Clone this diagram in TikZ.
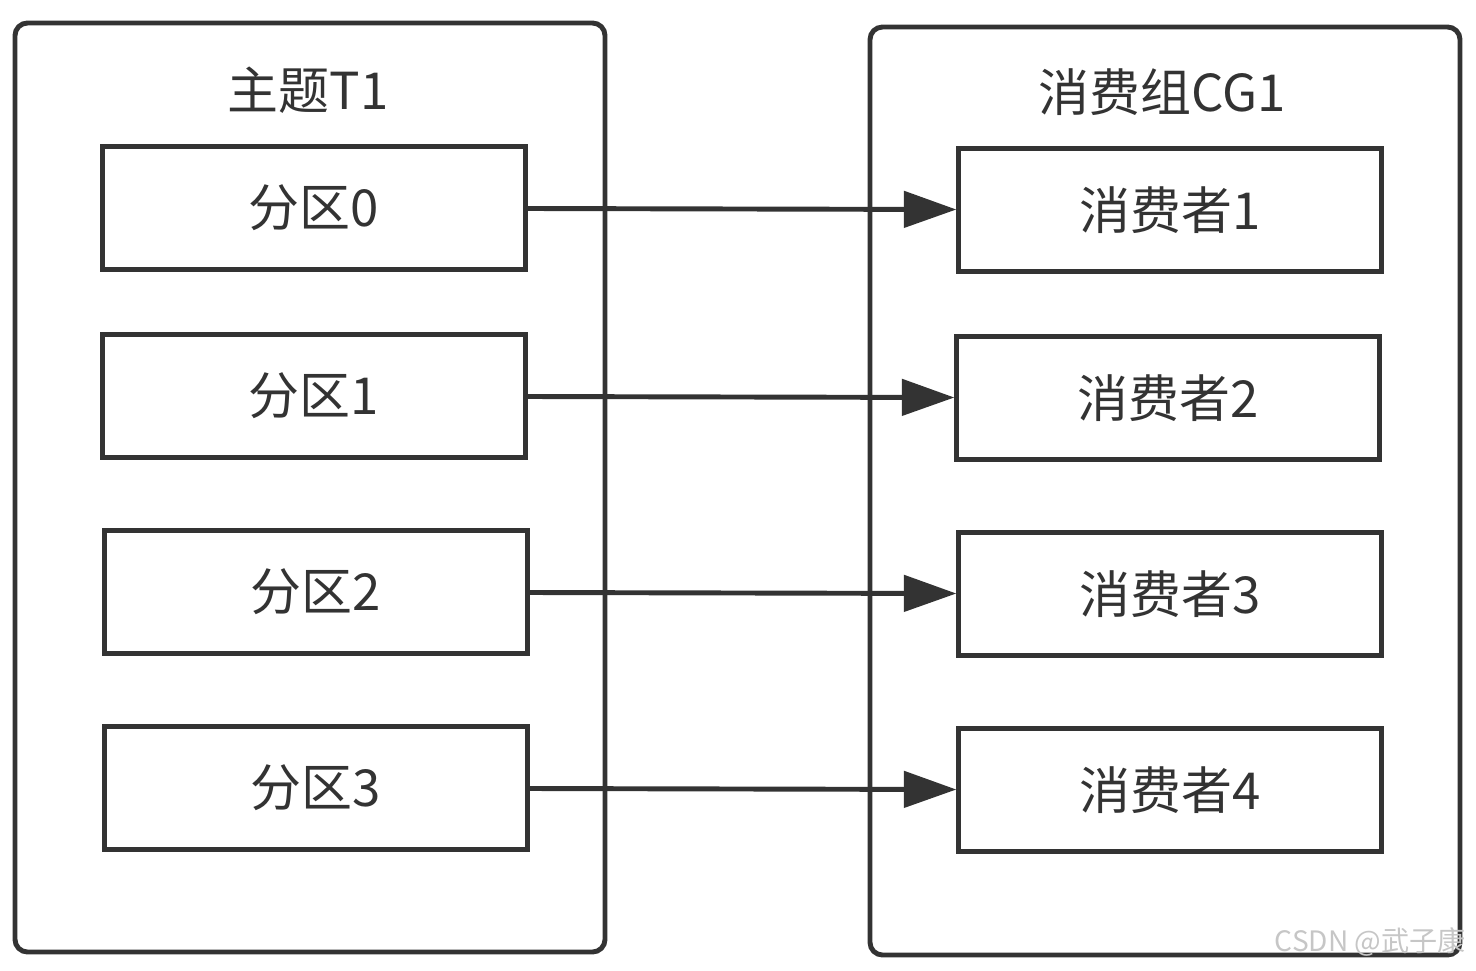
\documentclass[tikz,border=0pt]{standalone}
\usepackage{fontspec}
\setmainfont{Noto Sans CJK SC}
\usetikzlibrary{arrows.meta}
\definecolor{ink}{HTML}{333333}

\begin{document}
\begin{tikzpicture}[x=0.02cm, y=-0.02cm, ink, line width=2.8pt,
		group/.style={draw, rounded corners=0.25cm},
		part/.style={draw, minimum width=8.45cm, minimum height=2.45cm, font=\fontsize{29}{33}\selectfont},
		title/.style={font=\fontsize{29}{33}\selectfont},
		link/.style={-{Triangle[length=1.05cm,width=0.72cm]}}]
		\useasboundingbox (0,0) rectangle (1476,970);

		% topic
		\draw[group] (15,23) rectangle (605,952);
		\node[title] (t1) at (308,90) {主题T1};
		\node[part] (p0) at (314,208) {分区0};
		\node[part] (p1) at (314,396) {分区1};
		\node[part] (p2) at (316,592) {分区2};
		\node[part] (p3) at (316,788) {分区3};

		% consumer group
		\draw[group] (870,27) rectangle (1460,955);
		\node[title] (cg1) at (1162,92) {消费组CG1};
		\node[part] (c1) at (1170,210) {消费者1};
		\node[part] (c2) at (1168,398) {消费者2};
		\node[part] (c3) at (1170,594) {消费者3};
		\node[part] (c4) at (1170,790) {消费者4};

		\draw[link] (p0) -- (c1);
		\draw[link] (p1) -- (c2);
		\draw[link] (p2) -- (c3);
		\draw[link] (p3) -- (c4);

		\node[gray!45, font=\fontsize{16}{18}\selectfont, anchor=east] (mark) at (1474,942) {CSDN @武子康};
	\end{tikzpicture}
\end{document}
